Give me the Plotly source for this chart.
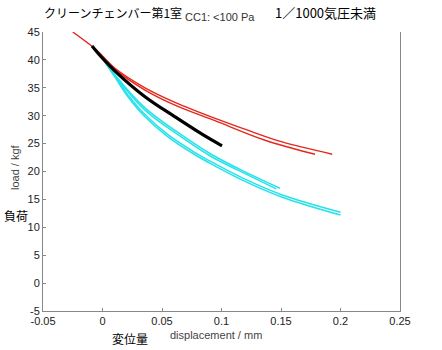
import plotly.graph_objects as go

# Load–displacement traces (displacement in mm, load in kgf)
red_a_x = [-0.025, -0.0063, 0.0, 0.0105, 0.0357, 0.0609, 0.0987, 0.122, 0.151, 0.193]
red_a_y = [45.0, 42.0, 40.7, 38.5, 35.0, 32.4, 29.2, 27.4, 25.3, 23.1]
red_b_x = [0.0, 0.0105, 0.0357, 0.0609, 0.0945, 0.1366, 0.1786]
red_b_y = [40.6, 38.3, 34.6, 31.9, 29.1, 25.6, 23.1]

black_x = [-0.0088, 0.0, 0.0105, 0.0357, 0.0609, 0.085, 0.1004]
black_y = [42.5, 40.3, 38.0, 33.4, 29.8, 26.5, 24.6]

cyan_a_x = [0.0, 0.0105, 0.0357, 0.0634, 0.092, 0.122, 0.149]
cyan_a_y = [40.4, 37.3, 31.4, 27.0, 23.0, 19.7, 17.0]
cyan_b_x = [0.0, 0.0105, 0.0357, 0.0634, 0.092, 0.122, 0.146]
cyan_b_y = [40.3, 37.1, 31.0, 26.6, 22.6, 19.4, 16.9]
cyan_c_x = [0.0, 0.0105, 0.0214, 0.0357, 0.055, 0.0777, 0.0945, 0.122, 0.151, 0.200]
cyan_c_y = [40.3, 36.9, 33.4, 29.8, 26.2, 23.0, 21.0, 18.0, 15.4, 12.2]
cyan_d_x = [0.0, 0.0105, 0.0214, 0.0357, 0.055, 0.0777, 0.0945, 0.122, 0.151, 0.200]
cyan_d_y = [40.3, 37.1, 33.7, 30.2, 26.6, 23.4, 21.4, 18.4, 15.8, 12.7]

x_ticks = [-0.05, 0, 0.05, 0.1, 0.15, 0.2, 0.25]
x_tick_text = ["-0.05", "0", "0.05", "0.1", "0.15", "0.2", "0.25"]
y_ticks = [-5, 0, 5, 10, 15, 20, 25, 30, 35, 40, 45]
y_tick_text = ["-5", "0", "5", "10", "15", "20", "25", "30", "35", "40", "45"]

RED = "#e4281c"
CYAN = "#26e2ea"

fig = go.Figure()

def add(x, y, color, width):
    fig.add_trace(go.Scatter(x=x, y=y, mode="lines",
                             line=dict(color=color, width=width, shape="spline", smoothing=1.0),
                             hoverinfo="skip", showlegend=False))

add(cyan_c_x, cyan_c_y, CYAN, 1.5)
add(cyan_d_x, cyan_d_y, CYAN, 1.5)
add(cyan_a_x, cyan_a_y, CYAN, 1.5)
add(cyan_b_x, cyan_b_y, CYAN, 1.5)
add(red_b_x, red_b_y, RED, 1.4)
add(red_a_x, red_a_y, RED, 1.4)
add(black_x, black_y, "#000000", 3.2)

axis_font = dict(family="Liberation Sans, Arial, sans-serif", size=11, color="#222222")

fig.update_layout(
    width=442, height=350,
    margin=dict(l=43, r=42, t=32, b=39),
    paper_bgcolor="white", plot_bgcolor="white",
    font=axis_font,
    xaxis=dict(range=[-0.05, 0.25], tickvals=x_ticks, ticktext=x_tick_text,
               showgrid=False, zeroline=False, showline=True, linecolor="#888888",
               linewidth=1, ticks="inside", ticklen=3, tickcolor="#888888",
               tickfont=axis_font, fixedrange=True),
    yaxis=dict(range=[-5, 45], tickvals=y_ticks, ticktext=y_tick_text,
               showgrid=False, zeroline=False, showline=True, mirror=True,
               linecolor="#888888", linewidth=1, ticks="inside", ticklen=3,
               tickcolor="#888888", tickfont=axis_font, fixedrange=True),
)

W, H = 442, 350
L, R, T, B = 43, 42, 32, 39

cjk = "Noto Sans CJK JP"
labels = [
    dict(text="クリーンチェンバー第1室", x=42, y=13, font=dict(family=cjk, size=12, color="#000"), xanchor="left"),
    dict(text="CC1: <100 Pa", x=183, y=17, font=dict(family="Liberation Sans, Arial", size=11, color="#333"), xanchor="left"),
    dict(text="1／1000気圧未満", x=273, y=13, font=dict(family=cjk, size=13, color="#000"), xanchor="left"),
    dict(text="負荷", x=2, y=215, font=dict(family=cjk, size=12, color="#000"), xanchor="left"),
    dict(text="load / kgf", x=15, y=167, textangle=-90, font=dict(family="Liberation Sans, Arial", size=11, color="#444"), xanchor="center"),
    dict(text="変位量", x=110, y=338, font=dict(family=cjk, size=12, color="#000"), xanchor="left"),
    dict(text="displacement / mm", x=168, y=335, font=dict(family="Liberation Sans, Arial", size=11, color="#444"), xanchor="left"),
]
for a in labels:
    # page-pixel position converted to paper coordinates of the plot area
    fig.add_annotation(text=a["text"],
                       x=(a["x"] - L) / (W - L - R),
                       y=1 - (a["y"] - T) / (H - T - B),
                       xref="paper", yref="paper", showarrow=False,
                       xanchor=a["xanchor"], yanchor="middle",
                       textangle=a.get("textangle", 0), font=a["font"])

fig.write_html("out.html")
